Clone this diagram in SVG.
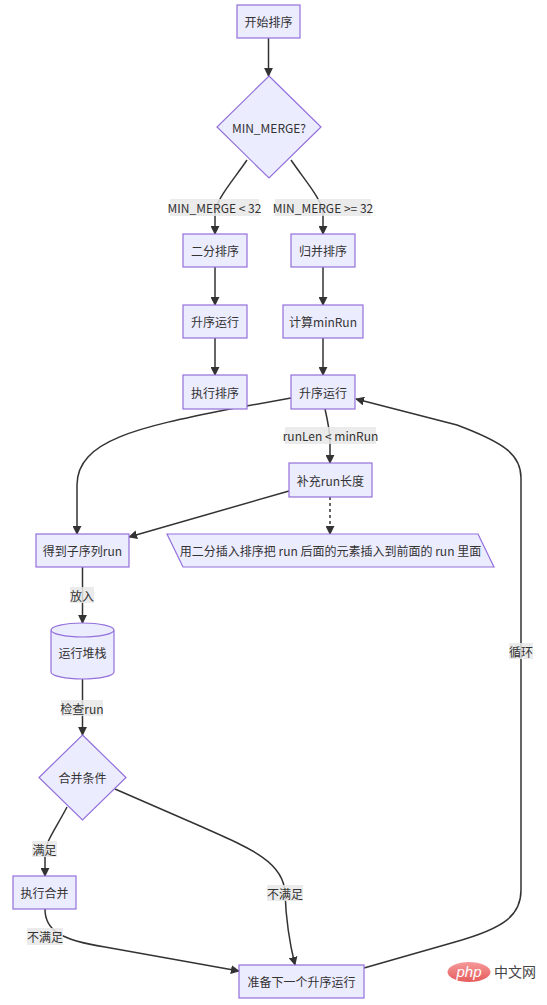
<svg xmlns="http://www.w3.org/2000/svg" width="547" height="1005" viewBox="0 0 547 1005">
<style>
.n{fill:#ECECFF;stroke:#9370DB;stroke-width:1.2}
.t{font-family:"Noto Sans CJK SC","Liberation Sans",sans-serif;font-size:12px;fill:#333;text-anchor:middle;dominant-baseline:central}
.e{fill:none;stroke:#333;stroke-width:1.5}
.d{stroke-dasharray:3,3}
.lb{fill:#e8e8e8;fill-opacity:0.85}
</style>
<defs>
<marker id="ah" viewBox="0 0 10 10" refX="9" refY="5" markerUnits="userSpaceOnUse" markerWidth="9" markerHeight="9" orient="auto">
<path d="M0,0 L10,5 L0,10 z" fill="#333"/>
</marker>
<linearGradient id="pg" x1="0" y1="0" x2="0" y2="1">
<stop offset="0" stop-color="#f59a9a"/>
<stop offset="1" stop-color="#e65b5b"/>
</linearGradient>
</defs>
<rect width="547" height="1005" fill="#fff"/>
<g id="connectors">
<path class="e" d="M268.5,38 L268.5,76" marker-end="url(#ah)"/>
<path class="e" d="M247,160 C232,182 215,200 215,215 L215,234" marker-end="url(#ah)"/>
<path class="e" d="M291,160 C306,182 323,200 323,215 L323,234" marker-end="url(#ah)"/>
<path class="e" d="M215,267 L215,305" marker-end="url(#ah)"/>
<path class="e" d="M215,338 L215,375" marker-end="url(#ah)"/>
<path class="e" d="M323,267 L323,305" marker-end="url(#ah)"/>
<path class="e" d="M323,338 L323,375" marker-end="url(#ah)"/>
<path class="e" d="M325,409 C328,422 330,432 330,442 L330,463" marker-end="url(#ah)"/>
<path class="e" d="M291,398 L230,409 C140,427 77,440 77,485 L77,534" marker-end="url(#ah)"/>
<path class="e" d="M289,491 L129,537" marker-end="url(#ah)"/>
<path class="e d" d="M330,497 L330,534" marker-end="url(#ah)"/>
<path class="e" d="M82.5,567 L82.5,623" marker-end="url(#ah)"/>
<path class="e" d="M82.5,679 L82.5,735" marker-end="url(#ah)"/>
<path class="e" d="M67,807 C55,830 45,842 45,855 L45,876" marker-end="url(#ah)"/>
<path class="e" d="M115,789 L200,826 C250,848 284,862 285,893 C286,920 290,945 295,965" marker-end="url(#ah)"/>
<path class="e" d="M45,909 C45,930 60,940 105,947 L239,971" marker-end="url(#ah)"/>
<path class="e" d="M364,968 L455,942 C505,928 521,915 521,890 L521,478 C521,455 505,443 457,425 L356,399" marker-end="url(#ah)"/>
</g>
<g id="edge-labels">
<rect class="lb" x="170" y="199" width="89" height="17"/><text class="t" x="214.5" y="207.5">MIN_MERGE &lt; 32</text>
<rect class="lb" x="275" y="199" width="96" height="17"/><text class="t" x="323" y="207.5">MIN_MERGE &gt;= 32</text>
<rect class="lb" x="285" y="427" width="91" height="17"/><text class="t" x="330.5" y="435.5">runLen &lt; minRun</text>
<rect class="lb" x="70" y="587" width="24" height="16"/><text class="t" x="82" y="595">放入</text>
<rect class="lb" x="61" y="700" width="42" height="16"/><text class="t" x="82" y="708">检查run</text>
<rect class="lb" x="32" y="841" width="25" height="16"/><text class="t" x="44.5" y="849">满足</text>
<rect class="lb" x="267" y="885" width="36" height="16"/><text class="t" x="285" y="893">不满足</text>
<rect class="lb" x="27" y="928" width="36" height="17"/><text class="t" x="45" y="936.5">不满足</text>
<rect class="lb" x="509" y="643" width="24" height="16"/><text class="t" x="521" y="651">循环</text>
</g>
<g id="start"><rect class="n" x="237" y="5" width="63" height="33"/><text class="t" x="268.5" y="21.5">开始排序</text></g>
<g id="minmerge"><polygon class="n" points="269,76 321,127 269,178 217,127"/><text class="t" x="269" y="127">MIN_MERGE?</text></g>
<g id="binsort"><rect class="n" x="183" y="234" width="64" height="33"/><text class="t" x="215" y="250.5">二分排序</text></g>
<g id="mergesort"><rect class="n" x="291" y="234" width="64" height="33"/><text class="t" x="323" y="250.5">归并排序</text></g>
<g id="ascL"><rect class="n" x="183" y="305" width="64" height="33"/><text class="t" x="215" y="321.5">升序运行</text></g>
<g id="minrun"><rect class="n" x="283" y="305" width="80" height="33"/><text class="t" x="323" y="321.5">计算minRun</text></g>
<g id="exec"><rect class="n" x="183" y="375" width="64" height="34"/><text class="t" x="215" y="392">执行排序</text></g>
<g id="ascR"><rect class="n" x="291" y="375" width="64" height="34"/><text class="t" x="323" y="392">升序运行</text></g>
<g id="fill"><rect class="n" x="289" y="463" width="83" height="34"/><text class="t" x="330.5" y="480">补充run长度</text></g>
<g id="getrun"><rect class="n" x="36" y="534" width="93" height="33"/><text class="t" x="82.5" y="550.5">得到子序列run</text></g>
<g id="note"><polygon class="n" points="167,534 478,534 494,567 183,567"/><text class="t" x="330.5" y="550.5">用二分插入排序把 run 后面的元素插入到前面的 run 里面</text></g>
<g id="stack"><path class="n" d="M51,630 A31.5,7 0 0 0 114,630 A31.5,7 0 0 0 51,630 L51,672 A31.5,7 0 0 0 114,672 L114,630"/><text class="t" x="82.5" y="652">运行堆栈</text></g>
<g id="cond"><polygon class="n" points="82.5,735 126,777.5 82.5,820 39,777.5"/><text class="t" x="82.5" y="777.5">合并条件</text></g>
<g id="domerge"><rect class="n" x="13" y="876" width="63" height="33"/><text class="t" x="44.5" y="892.5">执行合并</text></g>
<g id="next"><rect class="n" x="239" y="965" width="125" height="33"/><text class="t" x="301.5" y="981.5">准备下一个升序运行</text></g>
<g id="watermark">
<ellipse cx="469" cy="972" rx="21.5" ry="10" fill="url(#pg)"/>
<text x="469" y="977" font-family="'Liberation Sans',sans-serif" font-size="15" font-style="italic" fill="#fff" text-anchor="middle">php</text>
<text x="515" y="977" font-family="'Noto Sans CJK SC',sans-serif" font-size="14" fill="#444" text-anchor="middle">中文网</text>
</g>
</svg>
